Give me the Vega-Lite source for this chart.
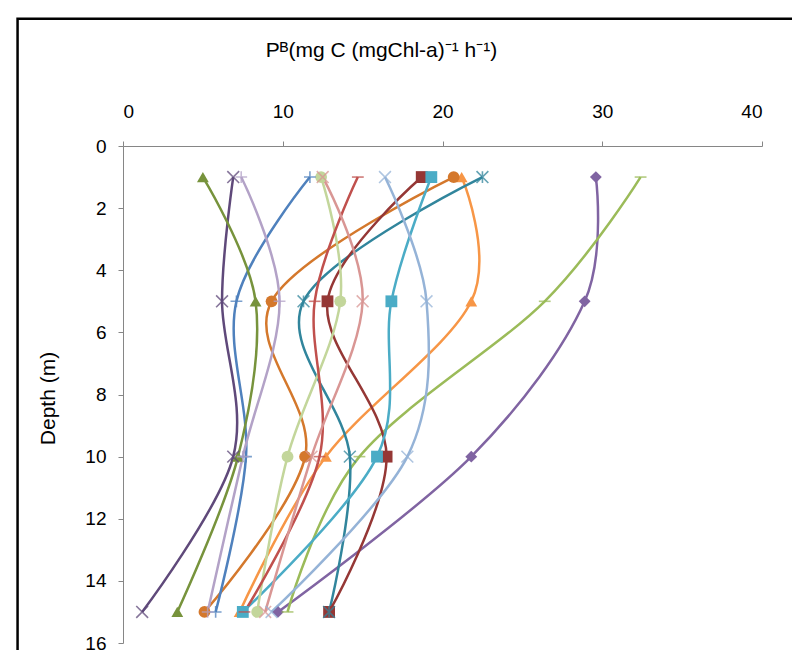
{
  "$schema": "https://vega.github.io/schema/vega-lite/v6.json",
  "width": 639,
  "height": 497,
  "autosize": {"type": "none"},
  "padding": {"left": 123, "top": 146, "right": 30, "bottom": 7},
  "background": "white",
  "config": {
    "view": {"stroke": null},
    "axis": {
      "labelFont": "Liberation Sans",
      "titleFont": "Liberation Sans",
      "labelFontSize": 19,
      "titleFontSize": 21,
      "titleFontWeight": "normal",
      "labelColor": "#000000",
      "titleColor": "#000000",
      "domainColor": "#868686",
      "tickColor": "#868686",
      "tickSize": 5,
      "grid": false
    }
  },
  "datasets": {
    "profiles": [
      {"series": "S1", "depth": 1, "pb": 29.6}, {"series": "S1", "depth": 5, "pb": 28.9}, {"series": "S1", "depth": 10, "pb": 21.8}, {"series": "S1", "depth": 15, "pb": 9.7},
      {"series": "S2", "depth": 1, "pb": 32.4}, {"series": "S2", "depth": 5, "pb": 26.4}, {"series": "S2", "depth": 10, "pb": 14.8}, {"series": "S2", "depth": 15, "pb": 10.3},
      {"series": "S3", "depth": 1, "pb": 21.2}, {"series": "S3", "depth": 5, "pb": 21.8}, {"series": "S3", "depth": 10, "pb": 12.7}, {"series": "S3", "depth": 15, "pb": 7.3},
      {"series": "S4", "depth": 1, "pb": 20.7}, {"series": "S4", "depth": 5, "pb": 9.3}, {"series": "S4", "depth": 10, "pb": 11.4}, {"series": "S4", "depth": 15, "pb": 5.1},
      {"series": "S5", "depth": 1, "pb": 22.5}, {"series": "S5", "depth": 5, "pb": 11.3}, {"series": "S5", "depth": 10, "pb": 14.2}, {"series": "S5", "depth": 15, "pb": 12.9},
      {"series": "S6", "depth": 1, "pb": 18.7}, {"series": "S6", "depth": 5, "pb": 12.8}, {"series": "S6", "depth": 10, "pb": 16.5}, {"series": "S6", "depth": 15, "pb": 12.9},
      {"series": "S7", "depth": 1, "pb": 19.3}, {"series": "S7", "depth": 5, "pb": 16.8}, {"series": "S7", "depth": 10, "pb": 15.9}, {"series": "S7", "depth": 15, "pb": 7.5},
      {"series": "S8", "depth": 1, "pb": 12.4}, {"series": "S8", "depth": 5, "pb": 13.6}, {"series": "S8", "depth": 10, "pb": 10.3}, {"series": "S8", "depth": 15, "pb": 8.4},
      {"series": "S9", "depth": 1, "pb": 14.7}, {"series": "S9", "depth": 5, "pb": 12.0}, {"series": "S9", "depth": 10, "pb": 12.3}, {"series": "S9", "depth": 15, "pb": 7.6},
      {"series": "S10", "depth": 1, "pb": 11.7}, {"series": "S10", "depth": 5, "pb": 7.1}, {"series": "S10", "depth": 10, "pb": 7.7}, {"series": "S10", "depth": 15, "pb": 5.8},
      {"series": "S11", "depth": 1, "pb": 6.9}, {"series": "S11", "depth": 5, "pb": 6.2}, {"series": "S11", "depth": 10, "pb": 6.9}, {"series": "S11", "depth": 15, "pb": 1.2},
      {"series": "S12", "depth": 1, "pb": 7.4}, {"series": "S12", "depth": 5, "pb": 9.8}, {"series": "S12", "depth": 10, "pb": 7.5}, {"series": "S12", "depth": 15, "pb": 5.3},
      {"series": "S13", "depth": 1, "pb": 5.0}, {"series": "S13", "depth": 5, "pb": 8.3}, {"series": "S13", "depth": 10, "pb": 7.2}, {"series": "S13", "depth": 15, "pb": 3.4},
      {"series": "S14", "depth": 1, "pb": 12.5}, {"series": "S14", "depth": 5, "pb": 15.0}, {"series": "S14", "depth": 10, "pb": 11.8}, {"series": "S14", "depth": 15, "pb": 8.9},
      {"series": "S15", "depth": 1, "pb": 16.4}, {"series": "S15", "depth": 5, "pb": 19.0}, {"series": "S15", "depth": 10, "pb": 17.8}, {"series": "S15", "depth": 15, "pb": 9.3}
    ],
    "markers": [
      {"series": "S1", "marker": "diamond"},
      {"series": "S2", "marker": "dash"},
      {"series": "S3", "marker": "triangle-up"},
      {"series": "S4", "marker": "circle"},
      {"series": "S5", "marker": "star"},
      {"series": "S6", "marker": "square"},
      {"series": "S7", "marker": "square"},
      {"series": "S8", "marker": "circle"},
      {"series": "S9", "marker": "dash"},
      {"series": "S10", "marker": "plus"},
      {"series": "S11", "marker": "x"},
      {"series": "S12", "marker": "plus"},
      {"series": "S13", "marker": "triangle-up"},
      {"series": "S14", "marker": "x"},
      {"series": "S15", "marker": "x"}
    ]
  },
  "resolve": {"scale": {"shape": "independent"}},
  "layer": [
    {
      "data": {"values": [{}]},
      "mark": {"type": "rect", "fill": null, "stroke": "#000000", "strokeWidth": 2.5},
      "encoding": {
        "x": {"datum": -6.6, "type": "quantitative", "scale": {"domain": [0, 40]}},
        "x2": {"datum": 45},
        "y": {"datum": -4.1, "type": "quantitative", "scale": {"domain": [0, 16], "reverse": true}},
        "y2": {"datum": 18}
      }
    },
    {
      "data": {"name": "profiles"},
      "mark": {"type": "line", "interpolate": "cardinal", "strokeWidth": 2.5},
      "encoding": {
        "x": {
          "field": "pb", "type": "quantitative",
          "scale": {"domain": [0, 40], "nice": false, "zero": false},
          "axis": {
            "orient": "top", "values": [0, 10, 20, 30, 40], "labelPadding": 20,
            "title": "Pᴮ(mg C (mgChl-a)⁻¹ h⁻¹)",
            "titleX": 258, "titleY": -96, "titleAlign": "center", "titleBaseline": "middle"
          }
        },
        "y": {
          "field": "depth", "type": "quantitative",
          "scale": {"domain": [0, 16], "reverse": true, "nice": false},
          "axis": {
            "values": [0, 2, 4, 6, 8, 10, 12, 14, 16], "labelPadding": 12,
            "title": "Depth (m)",
            "titleX": -75, "titleY": 252, "titleAlign": "center", "titleBaseline": "middle"
          }
        },
        "color": {
          "field": "series", "type": "nominal", "legend": null,
          "scale": {
            "domain": ["S1","S2","S3","S4","S5","S6","S7","S8","S9","S10","S11","S12","S13","S14","S15"],
            "range": ["#8064A2","#9BBB59","#F79646","#D4782C","#31859C","#953735","#4BACC6","#C3D69B","#C0504D","#4F81BD","#5F497A","#B3A2C7","#77933C","#D99694","#95B3D7"]
          }
        },
        "order": {"field": "depth", "type": "quantitative"}
      }
    },
    {
      "data": {"name": "profiles"},
      "transform": [
        {"lookup": "series", "from": {"data": {"name": "markers"}, "key": "series", "fields": ["marker"]}},
        {"filter": "indexof(['diamond','square','triangle-up','circle'], datum.marker) >= 0"}
      ],
      "mark": {"type": "point", "filled": true, "opacity": 1, "size": 140},
      "encoding": {
        "x": {"field": "pb", "type": "quantitative"},
        "y": {"field": "depth", "type": "quantitative"},
        "color": {"field": "series", "type": "nominal", "legend": null},
        "shape": {
          "field": "marker", "type": "nominal", "legend": null,
          "scale": {"domain": ["diamond","square","triangle-up","circle"], "range": ["diamond","square","triangle-up","circle"]}
        }
      }
    },
    {
      "data": {"name": "profiles"},
      "transform": [
        {"lookup": "series", "from": {"data": {"name": "markers"}, "key": "series", "fields": ["marker"]}},
        {"filter": "indexof(['x','star','plus','dash'], datum.marker) >= 0"}
      ],
      "mark": {"type": "point", "filled": false, "opacity": 0.75, "size": 140, "strokeWidth": 1.6},
      "encoding": {
        "x": {"field": "pb", "type": "quantitative"},
        "y": {"field": "depth", "type": "quantitative"},
        "color": {"field": "series", "type": "nominal", "legend": null},
        "shape": {
          "field": "marker", "type": "nominal", "legend": null,
          "scale": {
            "domain": ["x","star","plus","dash"],
            "range": ["M-1,-1L1,1M-1,1L1,-1", "M-1,-1L1,1M-1,1L1,-1M0,-1L0,1", "M-1,0L1,0M0,-1L0,1", "M-1,0L1,0"]
          }
        }
      }
    }
  ]
}
